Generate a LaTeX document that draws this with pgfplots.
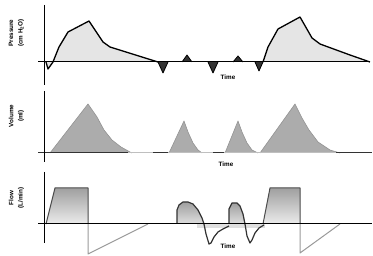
\documentclass[border=0pt]{standalone}
\usepackage{fontspec}
\setmainfont{Liberation Sans}
\usepackage{pgfplots}
\pgfplotsset{compat=1.18}
\begin{document}
\begin{tikzpicture}
\begin{axis}[width=373pt,height=256pt,scale only axis,
  xmin=0,xmax=373,ymin=0,ymax=256,y dir=reverse,hide axis,clip=false,
  every axis plot/.append style={line join=round}]
% frame for the bounding box
\addplot[draw=none] coordinates {(0,0) (373,256)};
% ---------------- Pressure ----------------
\addplot[fill=gray!20,draw=black,line width=1.3pt] coordinates {
 (46,62) (48,69) (53,62) (59,47) (68,32) (89,21) (103,42) (110,47) (158,62)};
\addplot[fill=gray!20,draw=black,line width=1.3pt] coordinates {
 (263,62) (268,47) (278,29) (300,17) (312,38) (320,44) (350,55) (370,62)};
\addplot[fill=black!80,draw=black,line width=0.8pt] coordinates {(158,62) (163,73) (168,62)};
\addplot[fill=black!80,draw=black,line width=0.8pt] coordinates {(208,62) (213,73) (218,62)};
\addplot[fill=black!80,draw=black,line width=0.8pt] coordinates {(255,62) (259,71) (263,62)};
\addplot[fill=black!80,draw=black,line width=0.8pt] coordinates {(182,62) (187,55) (192,62)};
\addplot[fill=black!80,draw=black,line width=0.8pt] coordinates {(233,62) (238,56) (243,62)};
\addplot[black,line width=1pt] coordinates {(38,62) (370,62)};
\addplot[black,line width=1pt] coordinates {(44,5) (44,85)};
% ---------------- Volume ----------------
\addplot[fill=gray!65,draw=gray!85,line width=0.6pt] coordinates {
 (50,153) (88,104) (97,117) (104,130) (112,140) (121,147) (130,152) (132,153)};
\addplot[fill=gray!65,draw=gray!85,line width=0.6pt] coordinates {
 (169,153) (184,121) (188,132) (193,143) (198,150) (202,153)};
\addplot[fill=gray!65,draw=gray!85,line width=0.6pt] coordinates {
 (225,153) (238,121) (242,132) (247,143) (252,150) (258,153)};
\addplot[fill=gray!65,draw=gray!85,line width=0.6pt] coordinates {
 (260,153) (295,104) (302,118) (309,130) (318,142) (330,150) (340,153)};
\addplot[gray!50,line width=1pt] coordinates {(38,153) (372,153)};
\addplot[black!80,line width=1pt] coordinates {(38,153) (128,153)};
\addplot[black!80,line width=1pt] coordinates {(153,153) (168,153)};
\addplot[black!80,line width=1pt] coordinates {(213,153) (224,153)};
\addplot[black!80,line width=1pt] coordinates {(336,153) (372,153)};
\addplot[black,line width=1pt] coordinates {(44,91) (44,162)};
% ---------------- Flow ----------------
\addplot[fill=gray!25,draw=none] coordinates {(197,224) (265,224) (265,228) (197,228)};
\addplot[top color=gray!75,bottom color=gray!15,draw=black!70,line width=1pt] coordinates {
 (46,224) (55,188) (88,188) (88,224)};
\addplot[gray!80,line width=1pt] coordinates {(88,224) (88,254) (148,224)};
\addplot[top color=gray!75,bottom color=gray!25,draw=black!80,line width=1.2pt] coordinates {
 (177,224) (177,210) (179,205) (183,202) (188,202) (193,204) (198,210) (202,218) (204,224)};
\addplot[black!80,line width=1.2pt] coordinates {
 (204,224) (206,234) (209,244) (211,243) (214,237) (218,232) (223,229) (229,226)};
\addplot[top color=gray!75,bottom color=gray!25,draw=black!80,line width=1.2pt] coordinates {
 (229,224) (229,209) (232,203) (237,203) (240,206) (243,214) (245,224)};
\addplot[black!80,line width=1.2pt] coordinates {
 (245,224) (247,236) (250,243) (252,240) (255,233) (259,228) (264,225)};
\addplot[top color=gray!75,bottom color=gray!15,draw=black!70,line width=1pt] coordinates {
 (263,224) (270,188) (300,188) (300,224)};
\addplot[gray!80,line width=1pt] coordinates {(300,224) (300,253) (340,224)};
\addplot[black,line width=1pt] coordinates {(38,224) (372,224)};
\addplot[black,line width=1pt] coordinates {(44,172) (44,243)};
% ---------------- Labels ----------------
\begin{scope}[font=\fontsize{6.3}{7}\selectfont\bfseries]
\node[rotate=90] at (axis cs:11,33) {Pressure};
\node[rotate=90] at (axis cs:21,33) {(cm H\textsubscript{2}O)};
\node at (axis cs:228,77) {Time};
\node[rotate=90] at (axis cs:11,116) {Volume};
\node[rotate=90] at (axis cs:21,116) {(ml)};
\node at (axis cs:226,164) {Time};
\node[rotate=90] at (axis cs:11,198) {Flow};
\node[rotate=90] at (axis cs:21,198) {(L/min)};
\node at (axis cs:228,246) {Time};
\end{scope}
\end{axis}
\end{tikzpicture}
\end{document}
